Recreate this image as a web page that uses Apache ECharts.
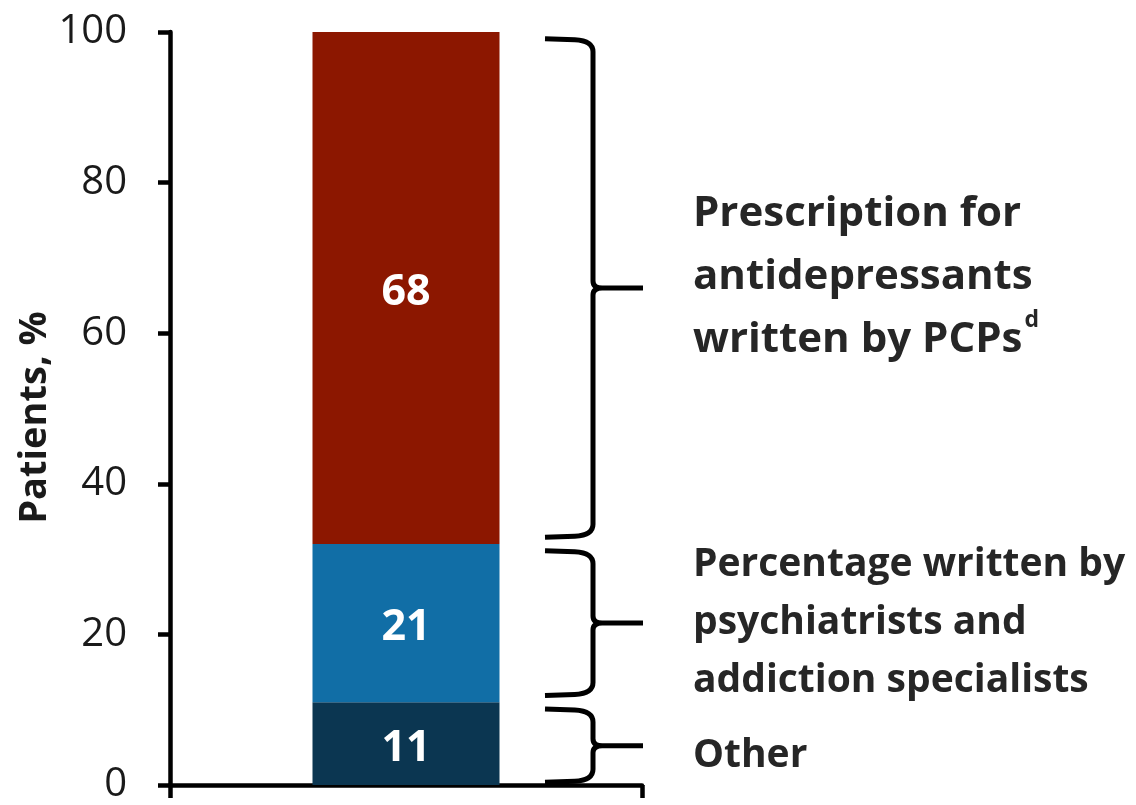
<!DOCTYPE html>
<html>
<head>
<meta charset="utf-8">
<title>Antidepressant prescriptions by prescriber</title>
<script src="https://cdn.jsdelivr.net/npm/echarts@6/dist/echarts.min.js"></script>
<style>
  html, body { margin: 0; padding: 0; background: #fff; }
  #chart { width: 1136px; height: 805px; }
</style>
</head>
<body>
<div id="chart"></div>
<script>
// Single stacked column, bottom to top
const categories = ['Antidepressant prescriptions'];
const segmentNames = ['Other', 'Psychiatrists and addiction specialists', 'PCPs'];
const otherValues = [11];
const psychValues = [21];
const pcpValues = [68];
const segmentColors = ['#0b3651', '#116ea6', '#8c1700'];

// Y axis scale
const yMin = 0;
const yMax = 100;
const yStep = 20;

// Bracket captions to the right of the column, one per segment (bottom to top)
const bracketLabels = [
  ['Other'],
  ['Percentage written by', 'psychiatrists and', 'addiction specialists'],
  ['Prescription for', 'antidepressants', 'written by PCPs{sup|d}']
];

const FONT = '"Open Sans", "Noto Sans", sans-serif';
const chart = echarts.init(document.getElementById('chart'), null, { renderer: 'canvas' });

const seriesValues = [otherValues, psychValues, pcpValues];

// Segment extents [category, low, high, index] for the brackets
const bracketData = [];
{
  let base = 0;
  seriesValues.forEach((vals, i) => {
    bracketData.push([0, base, base + vals[0], i]);
    base += vals[0];
  });
}

// Caption typography per bracket
const captionStyles = [
  { size: 39, lh: 58, dy: 10 },
  { size: 39, lh: 58, dy: 0 },
  { size: 42, lh: 63, dy: -11 }
];

function renderBracket(params, api) {
  const lo = api.value(1);
  const hi = api.value(2);
  const idx = api.value(3);
  const inset = 0.9;
  const top = api.coord([0, hi - inset])[1];
  const bot = api.coord([0, lo + (idx === 0 ? 0.35 : inset)])[1];
  const mid = (top + bot) / 2;
  const armX = 545, spineX = 593, tipX = 643, r = 13, t = 7;
  const d = [
    'M', armX, top,
    'L', spineX - r * 1.4, top + 1,
    'Q', spineX, top + 2, spineX, top + r,
    'L', spineX, mid - t,
    'Q', spineX, mid, spineX + t * 1.3, mid,
    'L', tipX, mid,
    'M', spineX + t * 1.3, mid,
    'Q', spineX, mid, spineX, mid + t,
    'L', spineX, bot - r,
    'Q', spineX, bot - 2, spineX - r * 1.4, bot - 1,
    'L', armX, bot
  ].join(' ');
  const cs = captionStyles[idx];
  return {
    type: 'group',
    children: [
      {
        type: 'path',
        shape: { pathData: d },
        style: { fill: 'none', stroke: '#000', lineWidth: 5, lineJoin: 'round' }
      },
      {
        type: 'text',
        x: 693,
        y: mid + cs.dy,
        style: {
          text: bracketLabels[idx].join('\n'),
          fontFamily: FONT,
          fontWeight: 'bold',
          fontSize: cs.size,
          lineHeight: cs.lh,
          fill: '#262626',
          align: 'left',
          verticalAlign: 'middle',
          rich: {
            sup: {
              fontFamily: FONT,
              fontWeight: 'bold',
              fontSize: 23,
              fill: '#262626',
              verticalAlign: 'top',
              lineHeight: cs.lh,
              padding: [0, 0, 6, 2]
            }
          }
        }
      }
    ]
  };
}

const option = {
  animation: false,
  backgroundColor: '#ffffff',
  grid: { left: 170, right: 494, top: 32, bottom: 16, containLabel: false },
  xAxis: {
    type: 'category',
    data: categories,
    boundaryGap: true,
    axisLine: { show: true, lineStyle: { color: '#000', width: 4.5 } },
    axisTick: { show: true, length: 13, lineStyle: { color: '#000', width: 4.5 } },
    axisLabel: { show: false },
    splitLine: { show: false }
  },
  yAxis: {
    type: 'value',
    min: yMin,
    max: yMax,
    interval: yStep,
    name: 'Patients, %',
    nameLocation: 'middle',
    nameGap: 112,
    nameRotate: 90,
    nameTextStyle: { fontFamily: FONT, fontWeight: 'bold', fontSize: 38, color: '#1a1a1a', padding: [0, 18, 0, 0] },
    axisLine: { show: true, lineStyle: { color: '#000', width: 4.5 } },
    axisTick: { show: true, length: 12, lineStyle: { color: '#000', width: 4.5 } },
    axisLabel: { margin: 43, fontFamily: FONT, fontSize: 40, color: '#1a1a1a' },
    splitLine: { show: false }
  },
  series: seriesValues.map((vals, i) => ({
    name: segmentNames[i],
    type: 'bar',
    stack: 'total',
    data: vals,
    barWidth: 187,
    itemStyle: { color: segmentColors[i] },
    label: {
      show: true,
      position: 'inside',
      offset: [0, 5],
      fontFamily: FONT,
      fontWeight: 'bold',
      fontSize: 43,
      color: '#ffffff'
    }
  })).concat([{
    name: 'brackets',
    type: 'custom',
    data: bracketData,
    encode: { x: 0, y: [1, 2] },
    renderItem: renderBracket,
    clip: false,
    silent: true,
    z: 5
  }])
};

chart.setOption(option);
</script>
</body>
</html>
